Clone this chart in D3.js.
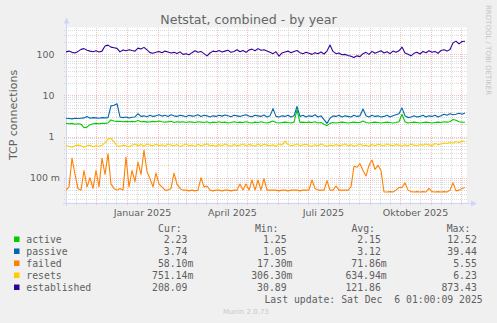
<!DOCTYPE html>
<html>
<head>
<meta charset="utf-8">
<script src="https://cdn.jsdelivr.net/npm/d3@7"></script>
<style>
  html, body { margin: 0; padding: 0; background: #f0f0f0; }
  svg { display: block; }
  text { font-family: "DejaVu Sans", sans-serif; }
  .mono { font-family: "DejaVu Sans Mono", monospace; white-space: pre; }
</style>
</head>
<body>
<svg id="chart" width="497" height="323"></svg>
<script>
// Netstat, combined - yearly view. One sample every 3 days, starting 1 Nov 2024 01:00.
const startTime = Date.UTC(2024, 10, 1, 1);
const endTime = Date.UTC(2025, 11, 6, 1);
const stepDays = 3;

const seriesNames = ["active", "passive", "failed", "resets", "established"];
const seriesColors = ["#00cc00", "#0066b3", "#ff8000", "#ffcc00", "#330099"];

const active = [
  2.1,2.05,2.1,2.0,2.05,2.0,1.65,1.7,1.95,2.05,
  2.1,2.05,2.1,2.1,2.15,2.55,2.4,2.35,2.35,2.3,
  2.35,2.3,2.35,2.3,2.45,2.3,2.35,2.25,2.3,2.35,
  2.3,2.4,2.3,2.25,2.3,2.35,2.2,2.3,2.25,2.3,
  2.2,2.3,2.25,2.2,2.3,2.25,2.2,2.3,2.15,2.25,
  2.2,2.3,2.2,2.25,2.15,2.2,2.3,2.2,2.25,2.2,
  2.3,2.2,2.15,2.25,2.2,2.3,2.2,2.15,2.25,2.4,
  2.2,2.15,2.2,2.25,2.2,2.15,2.25,4.5,2.2,2.25,
  2.2,2.25,2.2,2.3,2.15,2.2,2.0,1.85,2.1,2.2,
  2.15,2.2,2.25,2.2,2.15,2.2,2.25,2.2,2.2,2.4,
  2.2,2.15,2.2,2.25,2.2,2.15,2.2,2.25,2.2,2.15,
  2.2,2.3,3.5,2.3,2.15,2.2,2.25,2.2,2.15,2.2,
  2.25,2.2,2.15,2.2,2.25,2.2,2.3,2.25,2.3,2.6,
  2.5,2.3,2.25,2.23
];

const passive = [
  2.8,2.75,2.7,2.8,2.75,2.8,2.85,3.1,2.8,2.9,
  2.85,2.8,2.9,2.85,2.9,5.6,5.8,6.3,3.0,2.9,
  3.0,2.85,2.95,3.0,3.6,3.1,3.2,3.05,3.3,3.1,
  3.2,3.4,3.15,3.3,3.1,3.4,3.2,3.1,3.3,3.2,
  3.05,3.3,3.15,3.2,3.4,3.1,3.3,3.2,3.0,3.2,
  3.1,3.3,3.15,3.35,3.2,3.05,3.3,3.2,3.1,3.25,
  3.4,3.15,3.05,3.3,3.2,3.1,3.35,3.0,3.2,4.8,
  3.1,3.0,3.2,3.1,3.3,3.0,3.2,5.4,3.1,3.3,
  3.0,3.2,3.1,3.4,3.0,3.2,2.6,2.1,2.8,3.2,
  3.1,3.3,3.0,3.2,3.1,3.0,3.3,3.1,3.2,4.7,
  3.2,3.0,3.3,3.1,3.2,3.0,3.1,3.3,3.0,3.2,
  3.4,3.6,5.0,3.2,2.9,3.0,3.2,3.0,3.1,3.3,
  3.0,3.2,3.1,3.3,3.0,3.2,3.5,3.3,3.6,3.4,
  3.5,3.7,3.5,3.74
];

const failed = [
  0.05,0.06,0.30,0.12,0.055,0.05,0.15,0.06,0.10,0.055,
  0.15,0.06,0.30,0.12,0.38,0.07,0.055,0.05,0.055,0.05,
  0.32,0.06,0.15,0.08,0.24,0.12,0.47,0.14,0.095,0.06,
  0.13,0.07,0.06,0.05,0.05,0.055,0.13,0.07,0.055,0.05,
  0.05,0.048,0.05,0.048,0.05,0.10,0.06,0.063,0.05,0.048,
  0.05,0.05,0.048,0.05,0.05,0.048,0.05,0.05,0.07,0.05,
  0.07,0.05,0.088,0.05,0.088,0.05,0.095,0.05,0.05,0.05,
  0.05,0.048,0.05,0.05,0.048,0.05,0.05,0.05,0.048,0.05,
  0.05,0.05,0.088,0.055,0.05,0.05,0.05,0.085,0.05,0.05,
  0.063,0.05,0.05,0.05,0.05,0.06,0.19,0.18,0.22,0.15,
  0.11,0.2,0.27,0.16,0.2,0.15,0.045,0.045,0.046,0.045,
  0.05,0.058,0.058,0.075,0.05,0.046,0.045,0.046,0.045,0.046,
  0.045,0.055,0.046,0.045,0.046,0.045,0.046,0.045,0.05,0.075,
  0.048,0.05,0.055,0.058
];

const resets = [
  0.6,0.58,0.55,0.6,0.62,0.6,0.55,0.6,0.62,0.57,
  0.6,0.58,0.62,0.7,0.88,0.9,0.75,0.6,0.58,0.62,
  0.6,0.57,0.62,0.66,0.6,0.64,0.58,0.66,0.62,0.6,
  0.65,0.6,0.63,0.58,0.66,0.62,0.6,0.64,0.57,0.62,
  0.66,0.6,0.62,0.58,0.65,0.6,0.63,0.67,0.6,0.62,
  0.58,0.64,0.6,0.66,0.62,0.58,0.64,0.6,0.62,0.66,
  0.6,0.64,0.62,0.58,0.66,0.6,0.65,0.62,0.6,0.63,
  0.58,0.66,0.62,0.78,0.64,0.6,0.62,0.66,0.6,0.63,
  0.65,0.6,0.58,0.63,0.6,0.66,0.62,0.58,0.62,0.6,
  0.64,0.6,0.62,0.66,0.6,0.63,0.58,0.62,0.66,0.6,
  0.62,0.58,0.64,0.6,0.65,0.62,0.6,0.66,0.62,0.6,
  0.64,0.62,0.58,0.63,0.6,0.66,0.62,0.6,0.64,0.62,
  0.66,0.63,0.6,0.68,0.64,0.66,0.7,0.68,0.72,0.7,
  0.76,0.72,0.78,0.75
];

const established = [
  115,120,112,108,118,132,138,126,120,116,
  122,114,120,160,168,150,145,140,115,128,
  122,130,124,120,142,135,148,128,110,106,
  112,118,110,120,114,108,112,105,115,100,
  104,98,110,122,112,118,104,92,108,120,
  116,124,114,120,126,112,118,130,116,124,
  112,128,134,122,138,126,130,120,112,104,
  116,90,108,114,120,110,118,124,110,104,
  112,106,100,110,104,114,102,120,168,118,
  104,108,98,100,94,90,84,92,88,104,
  112,100,118,106,114,122,108,116,104,120,
  112,122,150,108,100,92,106,112,102,118,
  110,122,112,118,106,124,130,120,132,190,
  210,180,205,208
];

// Legend statistics: [value, unit suffix]
const statCur = [["2.23"," "],["3.74"," "],["58.10","m"],["751.14","m"],["208.09"," "]];
const statMin = [["1.25"," "],["1.05"," "],["17.30","m"],["306.30","m"],["30.89"," "]];
const statAvg = [["2.15"," "],["3.12"," "],["71.86","m"],["634.94","m"],["121.86"," "]];
const statMax = [["12.52"," "],["39.44"," "],["5.55"," "],["6.23"," "],["873.43"," "]];

const yTickValues = [0.1, 1, 10, 100];
const yTickLabels = ["100 m", "1", "10", "100"];
const xLabelMonths = [[2025, 0, "Januar 2025"], [2025, 3, "April 2025"], [2025, 6, "Juli 2025"], [2025, 9, "Oktober 2025"]];

const seriesValues = [active, passive, failed, resets, established];

const svg = d3.select("#chart");
const X0 = 66, X1 = 466, Y0 = 202.5, Y1 = 27.5;

const x = d3.scaleUtc().domain([new Date(startTime), new Date(endTime)]).range([X0, X1]);
const y = d3.scaleLog().domain([0.025, 450]).range([Y0, Y1]);
const DAY = 86400000;

// plot canvas
svg.append("rect").attr("x", X0).attr("y", Y1).attr("width", X1 - X0 + 1).attr("height", Y0 - Y1)
  .attr("fill", "#ffffff");

const grid = svg.append("g").attr("shape-rendering", "crispEdges");
const minorColor = "rgba(190,190,190,0.55)";
const majorColor = "rgba(240,140,140,0.55)";

// horizontal grid: every 1..9 x 10^k, decades highlighted
for (let k = -2; k <= 2; k++) {
  for (let m = 1; m <= 9; m++) {
    const v = m * Math.pow(10, k);
    if (v < y.domain()[0] || v > y.domain()[1]) continue;
    const py = Math.round(y(v)) + 0.5;
    grid.append("line").attr("x1", X0 - 2).attr("x2", X1 + 2).attr("y1", py).attr("y2", py)
      .attr("stroke", m === 1 ? majorColor : minorColor).attr("stroke-dasharray", "1,1");
  }
}

// vertical grid: month starts (major) and the 11th / 21st of each month (minor)
const months = d3.utcMonth.range(new Date(startTime), new Date(endTime));
months.forEach(mo => {
  const px = Math.round(x(mo)) + 0.5;
  if (px > X0 + 1 && px < X1) {
    grid.append("line").attr("x1", px).attr("x2", px).attr("y1", Y1).attr("y2", Y0 + 3)
      .attr("stroke", majorColor).attr("stroke-dasharray", "1,1");
  }
});
d3.utcMonth.range(new Date(startTime - 40 * DAY), new Date(endTime)).forEach(mo => {
  [10, 20].forEach(d => {
    const t = new Date(mo.getTime() + d * DAY);
    const px = Math.round(x(t)) + 0.5;
    if (px > X0 + 1 && px < X1) {
      grid.append("line").attr("x1", px).attr("x2", px).attr("y1", Y1).attr("y2", Y0 + 2)
        .attr("stroke", minorColor).attr("stroke-dasharray", "1,1");
    }
  });
});

// axes with arrows
const axisColor = "#cfd6f8";
const axes = svg.append("g").attr("shape-rendering", "crispEdges");
axes.append("line").attr("x1", X0 + 0.5).attr("x2", X0 + 0.5).attr("y1", Y0 + 3).attr("y2", 22)
  .attr("stroke", axisColor);
axes.append("line").attr("x1", X0 - 3).attr("x2", 472).attr("y1", Math.round(Y0) + 0.5).attr("y2", Math.round(Y0) + 0.5)
  .attr("stroke", axisColor);
svg.append("path").attr("d", `M${X0 - 2.5},${23.5} L${X0 + 0.5},${17.5} L${X0 + 3.5},${23.5} Z`).attr("fill", axisColor);
const ay = Math.round(Y0) + 0.5;
svg.append("path").attr("d", `M${471},${ay - 3} L${477},${ay} L${471},${ay + 3} Z`).attr("fill", axisColor);

// data lines
const defs = svg.append("defs");
defs.append("clipPath").attr("id", "plotclip").append("rect")
  .attr("x", X0).attr("y", Y1 - 2).attr("width", X1 - X0 + 1).attr("height", Y0 - Y1 + 2);

const line = d3.line()
  .x((d, i) => x(new Date(startTime + i * stepDays * DAY)))
  .y(d => y(d));

const plot = svg.append("g").attr("clip-path", "url(#plotclip)");
seriesValues.forEach((vals, si) => {
  plot.append("path").datum(vals).attr("d", line)
    .attr("fill", "none").attr("stroke", seriesColors[si]).attr("stroke-width", 1.1)
    .attr("stroke-linejoin", "round");
});

const textColor = "#5f5f5f";

// y tick labels
yTickValues.forEach((v, i) => {
  const lab = yTickLabels[i];
  svg.append("text").attr("x", lab.includes("m") ? 60 : 54.5).attr("y", y(v) + 3.5)
    .attr("text-anchor", "end").attr("font-size", 9.4).attr("fill", textColor).text(lab);
});

// x labels centred mid-month after their tick
xLabelMonths.forEach(([yr, mo, lab]) => {
  const t = new Date(Date.UTC(yr, mo, 1) + 15.5 * DAY);
  svg.append("text").attr("x", x(t)).attr("y", 215.5).attr("text-anchor", "middle")
    .attr("font-size", 9.5).attr("fill", textColor).text(lab);
});

// title and axis title
svg.append("text").attr("x", 248.5).attr("y", 23.5).attr("text-anchor", "middle")
  .attr("font-size", 12.6).attr("fill", "#666666").text("Netstat, combined - by year");
svg.append("text").attr("transform", `translate(17, ${(Y0 + Y1) / 2}) rotate(-90)`)
  .attr("text-anchor", "middle").attr("font-size", 11).attr("fill", textColor).text("TCP connections");

// side credit
svg.append("text").attr("transform", "translate(486, 5) rotate(90)")
  .attr("font-size", 7).attr("fill", "#c4c4c4").text("RRDTOOL / TOBI OETIKER");

// legend
const legendFont = 9.8;
const headerY = 231.5;
const rowY0 = 243, rowStep = 12;
const colEnds = [193.3, 292.5, 386.7, 482.7];
const headerEnds = [181.7, 278.5, 375, 470.3];
["Cur:", "Min:", "Avg:", "Max:"].forEach((h, i) => {
  svg.append("text").attr("class", "mono").attr("x", headerEnds[i]).attr("y", headerY)
    .attr("text-anchor", "end").attr("font-size", legendFont).attr("fill", textColor).text(h);
});
const stats = [statCur, statMin, statAvg, statMax];
seriesNames.forEach((name, si) => {
  const ry = rowY0 + si * rowStep;
  svg.append("rect").attr("x", 14).attr("y", ry - 6.5).attr("width", 5.5).attr("height", 5.5)
    .attr("fill", seriesColors[si]);
  svg.append("text").attr("class", "mono").attr("x", 26.3).attr("y", ry)
    .attr("font-size", legendFont).attr("fill", textColor).text(name);
  stats.forEach((col, ci) => {
    const [num, unit] = col[si];
    svg.append("text").attr("class", "mono").attr("x", colEnds[ci]).attr("y", ry)
      .attr("text-anchor", "end").attr("font-size", legendFont).attr("fill", textColor)
      .text(num + unit);
  });
});
svg.append("text").attr("class", "mono").attr("x", 482.7).attr("y", 302.5)
  .attr("text-anchor", "end").attr("font-size", legendFont).attr("fill", textColor)
  .text("Last update: Sat Dec  6 01:00:09 2025");

svg.append("text").attr("x", 223).attr("y", 314).attr("font-size", 7).attr("fill", "#c8c8c8")
  .text("Munin 2.0.73");
</script>
</body>
</html>
